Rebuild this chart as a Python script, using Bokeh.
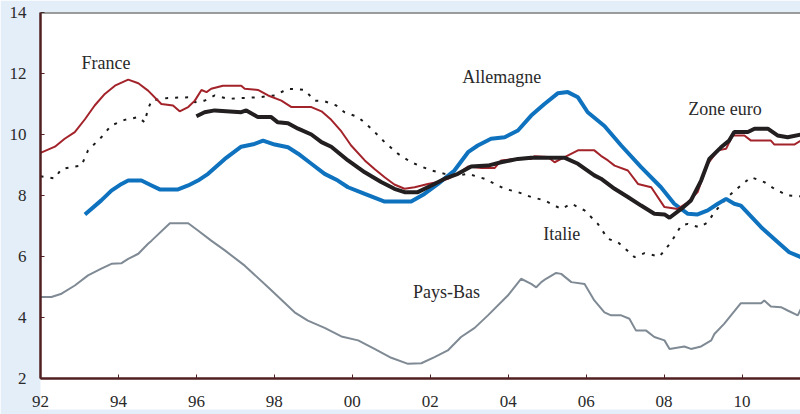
from bokeh.plotting import figure
from bokeh.models import Range1d, FixedTicker, Span, ColumnDataSource
from bokeh.embed import file_html
from bokeh.resources import INLINE
from bokeh.core.properties import value

# ---- data (decimal years, %) ----
france_x = [1992.0, 1992.37, 1992.62, 1992.88, 1993.14, 1993.39, 1993.65, 1993.91, 1994.25, 1994.51,
            1994.76, 1995.10, 1995.40, 1995.57, 1995.79, 1995.96, 1996.13, 1996.26, 1996.38, 1996.68,
            1997.15, 1997.24, 1997.58, 1997.84, 1998.18, 1998.44, 1998.95, 1999.21, 1999.46, 1999.72,
            1999.97, 2000.32, 2000.57, 2000.83, 2001.08, 2001.34, 2001.60, 2001.94, 2002.20, 2002.45,
            2002.71, 2002.97, 2003.31, 2003.65, 2003.82, 2004.16, 2004.59, 2004.67, 2005.02, 2005.19,
            2005.36, 2005.79, 2006.21, 2006.38, 2006.56, 2006.73, 2007.07, 2007.33, 2007.67, 2008.01,
            2008.35, 2008.61, 2008.86, 2009.12, 2009.38, 2009.59, 2009.76, 2010.06, 2010.23, 2010.74,
            2010.83, 2011.34, 2011.51]
france_y = [9.4, 9.6, 9.86, 10.08, 10.5, 10.95, 11.33, 11.6, 11.8, 11.68,
            11.44, 11.0, 10.95, 10.76, 10.9, 11.11, 11.46, 11.39, 11.5, 11.6,
            11.6, 11.5, 11.46, 11.28, 11.11, 10.9, 10.9, 10.76, 10.48, 10.1,
            9.64, 9.15, 8.87, 8.6, 8.36, 8.22, 8.27, 8.38, 8.44, 8.55,
            8.71, 8.95, 8.9, 8.9, 9.15, 9.2, 9.2, 9.29, 9.26, 9.09,
            9.2, 9.48, 9.48, 9.3, 9.15, 8.98, 8.82, 8.38, 8.27, 7.62,
            7.56, 7.78, 8.11, 9.04, 9.48, 9.53, 9.97, 9.97, 9.8, 9.8,
            9.67, 9.67, 9.8]

allemagne_x = [1993.14, 1993.56, 1993.82, 1994.08, 1994.25, 1994.59, 1994.85, 1995.06, 1995.53, 1995.79,
               1996.04, 1996.30, 1996.73, 1997.15, 1997.49, 1997.71, 1998.01, 1998.35, 1998.61, 1998.95,
               1999.29, 1999.63, 1999.89, 2000.32, 2000.83, 2001.51, 2001.85, 2002.20, 2002.62, 2002.97,
               2003.22, 2003.56, 2003.91, 2004.25, 2004.59, 2004.93, 2005.27, 2005.53, 2005.79, 2006.04,
               2006.47, 2006.90, 2007.41, 2007.92, 2008.26, 2008.61, 2008.86, 2009.12, 2009.38, 2009.59,
               2009.80, 2009.97, 2010.49, 2010.92, 2011.21, 2011.51]
allemagne_y = [7.38, 7.84, 8.16, 8.38, 8.49, 8.49, 8.33, 8.2, 8.2, 8.33,
               8.49, 8.71, 9.2, 9.6, 9.69, 9.8, 9.67, 9.58, 9.37, 9.04,
               8.71, 8.49, 8.27, 8.05, 7.8, 7.8, 8.05, 8.38, 8.82, 9.42,
               9.64, 9.86, 9.91, 10.13, 10.62, 11.0, 11.35, 11.39, 11.22, 10.73,
               10.28, 9.64, 8.93, 8.27, 7.73, 7.4, 7.38, 7.51, 7.73, 7.89,
               7.73, 7.67, 6.96, 6.47, 6.14, 5.98]

zone_euro_x = [1996.0, 1996.21, 1996.47, 1997.15, 1997.28, 1997.58, 1997.92, 1998.09, 1998.35, 1998.61,
               1998.95, 1999.21, 1999.46, 1999.89, 2000.32, 2000.74, 2001.08, 2001.34, 2001.68, 2002.03,
               2002.37, 2002.71, 2003.05, 2003.48, 2003.82, 2004.25, 2004.59, 2005.44, 2005.79, 2006.21,
               2006.38, 2006.73, 2007.07, 2007.41, 2007.75, 2008.01, 2008.14, 2008.44, 2008.69, 2008.95,
               2009.16, 2009.46, 2009.67, 2009.80, 2010.15, 2010.32, 2010.66, 2010.91, 2011.17, 2011.51]
zone_euro_y = [10.6, 10.73, 10.79, 10.73, 10.79, 10.57, 10.57, 10.4, 10.37, 10.19,
               10.0, 9.75, 9.6, 9.15, 8.76, 8.44, 8.22, 8.11, 8.11, 8.33,
               8.55, 8.71, 8.95, 8.98, 9.09, 9.2, 9.24, 9.24, 9.04, 8.66,
               8.55, 8.22, 7.95, 7.67, 7.4, 7.38, 7.27, 7.56, 7.84, 8.49,
               9.2, 9.58, 9.8, 10.08, 10.08, 10.19, 10.19, 9.97, 9.91, 10.0]

italie_x = [1992.0, 1992.36, 1992.54, 1992.88, 1993.05, 1993.22, 1993.56, 1993.82, 1994.16, 1994.51,
            1994.67, 1994.76, 1994.85, 1995.27, 1995.79, 1995.96, 1996.21, 1996.47, 1996.81, 1997.58,
            1998.01, 1998.35, 1998.78, 1999.03, 1999.29, 1999.59, 1999.80, 2000.15, 2000.49, 2000.83,
            2001.17, 2001.51, 2001.77, 2002.03, 2002.37, 2002.71, 2002.97, 2003.39, 2003.91, 2004.25,
            2004.59, 2004.93, 2005.36, 2005.62, 2005.96, 2006.30, 2006.56, 2006.81, 2007.07, 2007.24,
            2007.50, 2007.88, 2008.18, 2008.44, 2008.61, 2008.90, 2009.12, 2009.29, 2009.63, 2009.97,
            2010.23, 2010.57, 2010.83, 2011.17, 2011.51]
italie_y = [8.63, 8.56, 8.87, 8.95, 8.98, 9.48, 9.91, 10.3, 10.48, 10.57,
            10.4, 10.84, 11.11, 11.2, 11.22, 11.06, 11.11, 11.28, 11.17, 11.22,
            11.28, 11.5, 11.46, 11.11, 11.09, 10.95, 10.73, 10.57, 10.19, 9.75,
            9.37, 9.09, 8.95, 8.82, 8.71, 8.66, 8.71, 8.55, 8.22, 8.11,
            7.95, 7.84, 7.56, 7.73, 7.51, 7.07, 6.58, 6.47, 6.18, 5.98,
            6.11, 6.0, 6.47, 7.02, 7.07, 6.96, 7.12, 7.45, 7.95, 8.33,
            8.6, 8.44, 8.22, 8.0, 7.97]

pays_bas_x = [1992.0, 1992.28, 1992.54, 1992.88, 1993.22, 1993.56, 1993.82, 1994.08, 1994.25, 1994.51,
              1994.76, 1994.85, 1995.32, 1995.79, 1996.04, 1996.38, 1996.73, 1997.24, 1997.84, 1998.52,
              1998.86, 1999.29, 1999.72, 2000.15, 2000.57, 2001.0, 2001.43, 2001.77, 2002.11, 2002.45,
              2002.79, 2003.14, 2003.48, 2003.99, 2004.33, 2004.59, 2004.72, 2004.85, 2004.97, 2005.23,
              2005.36, 2005.62, 2005.96, 2006.21, 2006.47, 2006.64, 2006.90, 2007.11, 2007.28, 2007.54,
              2007.75, 2008.01, 2008.14, 2008.52, 2008.69, 2008.95, 2009.21, 2009.29, 2009.54, 2009.97,
              2010.49, 2010.57, 2010.74, 2011.0, 2011.17, 2011.43, 2011.51]
pays_bas_y = [4.67, 4.67, 4.78, 5.05, 5.38, 5.6, 5.76, 5.78, 5.92, 6.09,
              6.42, 6.52, 7.09, 7.09, 6.85, 6.52, 6.2, 5.7, 4.99, 4.17,
              3.9, 3.66, 3.38, 3.25, 2.97, 2.68, 2.48, 2.5, 2.7, 2.92,
              3.36, 3.66, 4.07, 4.72, 5.27, 5.1, 4.99, 5.16, 5.27, 5.46,
              5.43, 5.16, 5.1, 4.56, 4.17, 4.07, 4.07, 3.96, 3.57, 3.57,
              3.36, 3.25, 2.97, 3.05, 2.97, 3.05, 3.25, 3.46, 3.79, 4.47,
              4.47, 4.56, 4.36, 4.34, 4.23, 4.07, 4.28]

x_ticks = [1992, 1994, 1996, 1998, 2000, 2002, 2004, 2006, 2008, 2010]
x_tick_labels = ["92", "94", "96", "98", "00", "02", "04", "06", "08", "10"]
y_ticks = [2, 4, 6, 8, 10, 12, 14]

label_names = ["France", "Allemagne", "Zone euro", "Italie", "Pays-Bas"]
label_x = [1993.05, 2002.82, 2008.62, 2004.9, 2001.56]
label_y = [12.33, 11.87, 10.85, 6.74, 4.82]

# ---- styling ----
FONT = "Liberation Serif"
LIGHT_BLUE = "#e3eef9"
AXIS_COL = "#4f1f21"

p = figure(width=800, height=414, output_backend="svg", toolbar_location=None,
           x_range=Range1d(1992, 2011.5), y_range=Range1d(2, 14),
           min_border_left=40, min_border_right=0, min_border_top=12, min_border_bottom=36)
p.background_fill_color = "white"
p.border_fill_color = LIGHT_BLUE
p.outline_line_color = None
p.grid.visible = False

p.xaxis.ticker = FixedTicker(ticks=x_ticks)
p.xaxis.major_label_overrides = {t: s for t, s in zip(x_ticks, x_tick_labels)}
p.yaxis.ticker = FixedTicker(ticks=y_ticks)
for ax in (p.xaxis, p.yaxis):
    ax.axis_line_color = AXIS_COL
    ax.axis_line_width = 2.5
    ax.major_tick_line_color = AXIS_COL
    ax.major_tick_in = 4
    ax.major_tick_out = 0
    ax.minor_tick_line_color = None
    ax.major_label_text_font = FONT
    ax.major_label_text_font_size = "17px"
    ax.major_label_text_color = "#2a2a2a"
p.xaxis.major_label_standoff = 17
p.yaxis.major_label_standoff = 14
try:
    p.xaxis.background_fill_color = "white"
except Exception:
    pass

p.add_layout(Span(location=14, dimension="width", line_color="#3a3a3a", line_width=2))

p.line(pays_bas_x, pays_bas_y, line_color="#7f8a94", line_width=2)
p.line(italie_x, italie_y, line_color="#1a1a1a", line_width=2, line_dash="3 7")
p.line(allemagne_x, allemagne_y, line_color="#0e72bf", line_width=4)
p.line(france_x, france_y, line_color="#a3232a", line_width=2)
p.line(zone_euro_x, zone_euro_y, line_color="#231f20", line_width=4)

src = ColumnDataSource(dict(x=label_x, y=label_y, t=label_names))
p.text(x="x", y="y", text="t", source=src, text_font=value(FONT), text_font_size="18px",
       text_color="#2a2a2a", text_align="left", text_baseline="middle")

open("out.html", "w").write(file_html(p, INLINE))
